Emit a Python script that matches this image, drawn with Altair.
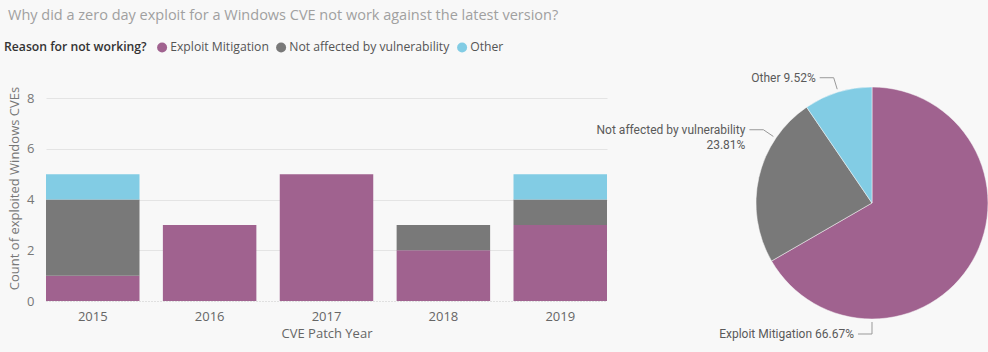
import math
import altair as alt
import pandas as pd

# ---------------- data ----------------
years = ["2015", "2016", "2017", "2018", "2019"]
reasons = ["Exploit Mitigation", "Not affected by vulnerability", "Other"]
exploit_mitigation = [1, 3, 5, 2, 3]
not_affected = [3, 0, 0, 1, 1]
other = [1, 0, 0, 0, 1]
y_ticks = [0, 2, 4, 6, 8]

title_text = "Why did a zero day exploit for a Windows CVE not work against the latest version?"
legend_title = "Reason for not working?"
x_title = "CVE Patch Year"
y_title = "Count of exploited Windows CVEs"

# ---------------- style / layout ----------------
colors = ["#A0628F", "#797979", "#82CCE4"]
BG = "#F8F8F8"
FONT = "Open Sans"
LABEL_FONT = "Roboto"
W, H = 561, 203
LEFT, TOP = 46, 98
PIE_CX, PIE_CY, PIE_R = 826, 105, 116
LABEL_ANGLES = [180, 304, 343]  # where each pie label's leader line leaves the pie

series = [exploit_mitigation, not_affected, other]
rows = []
for r_i, (reason, vals) in enumerate(zip(reasons, series)):
    for year, v in zip(years, vals):
        if v > 0:
            rows.append({"year": year, "reason": reason, "count": v, "rank": r_i})
df = pd.DataFrame(rows)

totals = [sum(v) for v in series]
grand = sum(totals)
pie_df = pd.DataFrame({"reason": reasons, "total": totals, "rank": list(range(len(reasons)))})

lab_rows = []
for i, (reason, tot) in enumerate(zip(reasons, totals)):
    a = math.radians(LABEL_ANGLES[i])
    s, c = math.sin(a), math.cos(a)
    r0, r1 = PIE_R + 3, PIE_R + 15
    x0, y0 = PIE_CX + r0 * s, PIE_CY - r0 * c
    x1, y1 = PIE_CX + r1 * s, PIE_CY - r1 * c
    x2, y2 = x1 - 14, y1
    pct = f"{100 * tot / grand:.2f}%"
    sep = "\n" if len(reason) > 20 else " "
    lab_rows.append({"reason": reason, "x0": x0, "y0": y0, "x1": x1, "y1": y1,
                     "x2": x2, "y2": y2, "xt": x2 - 4, "label": reason + sep + pct})
lab_df = pd.DataFrame(lab_rows)

color_scale = alt.Scale(domain=reasons, range=colors)

bars = alt.Chart(df).mark_bar().encode(
    x=alt.X("year:N", sort=years,
            scale=alt.Scale(paddingInner=0.2, paddingOuter=0),
            axis=alt.Axis(title=x_title, labelAngle=0, domain=False, ticks=False,
                          labelPadding=9, titlePadding=4, labelFontSize=13,
                          titleFontSize=13, labelColor="#666666", titleColor="#666666",
                          titleFontWeight="normal", labelFont=FONT, titleFont=FONT)),
    y=alt.Y("count:Q", stack="zero",
            scale=alt.Scale(domain=[0, 8], nice=False),
            axis=alt.Axis(values=y_ticks, title=y_title, domain=False, ticks=False,
                          grid=True,
                          gridColor={"condition": {"test": "datum.value === 0", "value": "#C8C8C8"},
                                     "value": "#E4E4E4"},
                          gridDash={"condition": {"test": "datum.value === 0", "value": [1, 2]},
                                    "value": []},
                          labelPadding=12, titlePadding=5, labelFontSize=13, titleFontSize=13,
                          titleY=90,
                          labelColor="#777777", titleColor="#777777", titleFontWeight="normal",
                          labelFont=FONT, titleFont=FONT)),
    color=alt.Color("reason:N", scale=color_scale, sort=reasons,
                    legend=alt.Legend(orient="none", legendX=-42, legendY=-57,
                                      direction="horizontal", titleOrient="left",
                                      title=legend_title, symbolType="circle",
                                      symbolSize=100, symbolStrokeWidth=0,
                                      labelFontSize=12.2, titleFontSize=12.2,
                                      titleFontWeight=600, titleColor="#333333",
                                      labelColor="#555555", columnPadding=6,
                                      labelOffset=2, titlePadding=9, labelLimit=0,
                                      labelFont=FONT, titleFont=FONT)),
    order=alt.Order("rank:Q", sort="ascending"),
)

pie = alt.Chart(pie_df).mark_arc(outerRadius=PIE_R, stroke=BG, strokeWidth=0.5).encode(
    theta=alt.Theta("total:Q", stack=True),
    color=alt.Color("reason:N", scale=color_scale, sort=reasons, legend=None),
    order=alt.Order("rank:Q", sort="ascending"),
    x=alt.value(PIE_CX),
    y=alt.value(PIE_CY),
)

lead1 = alt.Chart(lab_df).mark_rule(color="#999999", strokeWidth=1).encode(
    x=alt.X("x0:Q", scale=None, axis=None), x2="x1:Q",
    y=alt.Y("y0:Q", scale=None, axis=None), y2="y1:Q",
)
lead2 = alt.Chart(lab_df).mark_rule(color="#999999", strokeWidth=1).encode(
    x=alt.X("x1:Q", scale=None, axis=None), x2="x2:Q",
    y=alt.Y("y1:Q", scale=None, axis=None), y2="y2:Q",
)
labels = alt.Chart(lab_df).mark_text(align="right", baseline="middle", lineBreak="\n",
                                     font=LABEL_FONT, fontSize=12, fontWeight="normal",
                                     color="#5A5A5A", lineHeight=15).encode(
    x=alt.X("xt:Q", scale=None, axis=None),
    y=alt.Y("y2:Q", scale=None, axis=None),
    text="label:N",
)

title = alt.Chart(pd.DataFrame({"t": [title_text]})).mark_text(
    align="left", baseline="middle", font=FONT, fontSize=14.5, color="#A0A0A0").encode(
    x=alt.value(8 - LEFT), y=alt.value(16 - TOP), text="t:N")

chart = alt.layer(bars, pie, lead1, lead2, labels, title).resolve_scale(
    x="independent", y="independent"
).properties(
    width=W, height=H,
    autosize=alt.AutoSizeParams(type="none"),
    padding={"left": LEFT, "top": TOP, "right": 988 - LEFT - W, "bottom": 352 - TOP - H},
    background=BG,
).configure_view(stroke=None)

chart.save("out.html", embed_options={"renderer": "svg", "actions": False})
